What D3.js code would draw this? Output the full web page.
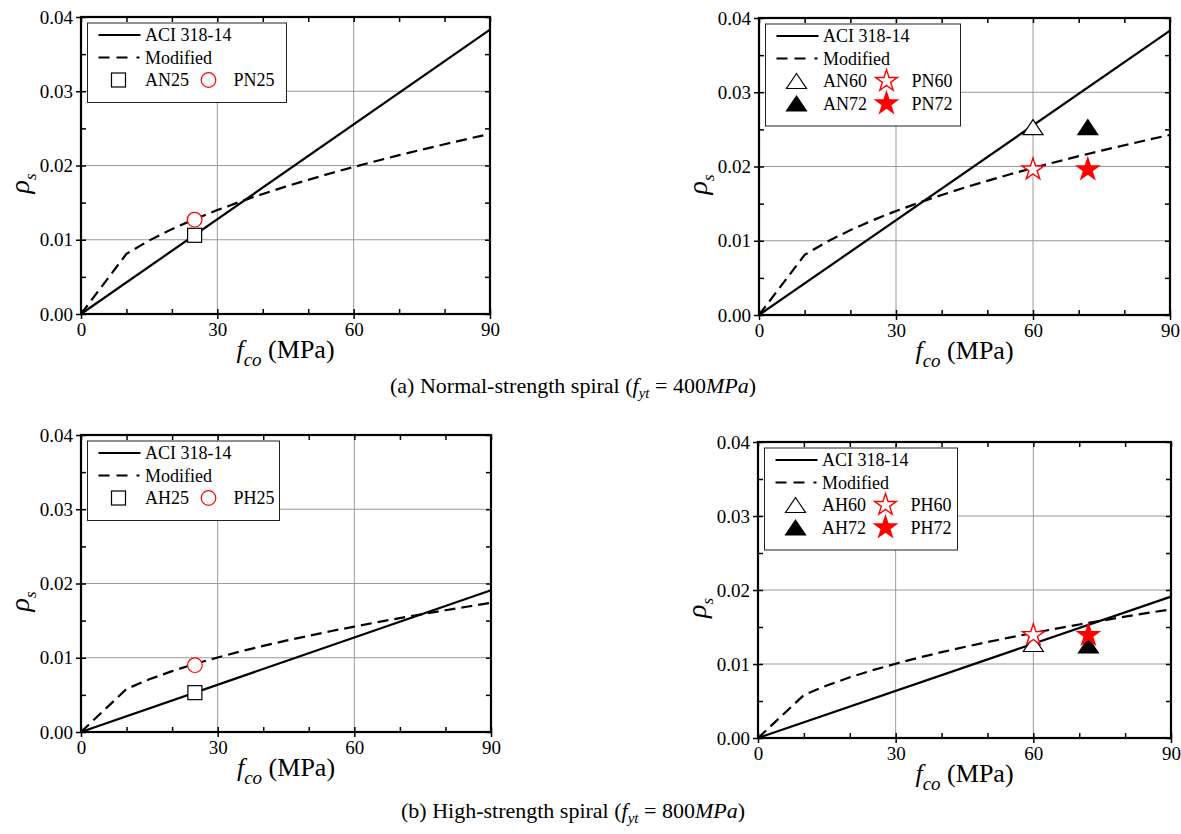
<!DOCTYPE html>
<html>
<head>
<meta charset="utf-8">
<script src="https://cdn.jsdelivr.net/npm/d3@7"></script>
<style>
  body { margin: 0; background: #fff; }
  svg text { font-family: "Liberation Serif", "Times New Roman", serif; fill: #000; }
</style>
</head>
<body>
<div id="chart"></div>
<script>
// axis ticks
var fcoTicks = [0, 30, 60, 90];
var fcoMinor = [10, 20, 40, 50, 70, 80];
var rhoTicks = [0, 0.01, 0.02, 0.03, 0.04];
var rhoMinor = [0.005, 0.015, 0.025, 0.035];

// ACI 318-14 lines (straight)
var aciFco = [0, 90];
var aciNormal = [0, 0.0383];
var aciHigh = [0, 0.0191];

// modified curves
var modFco = [0, 10, 15, 20, 25, 30, 35, 40, 45, 50, 55, 60, 65, 70, 75, 80, 85, 90];
var modNormal = [0, 0.0081, 0.0099, 0.01143, 0.01278, 0.0140, 0.01512, 0.01617, 0.01715,
                 0.01807, 0.01896, 0.0198, 0.02061, 0.02139, 0.02214, 0.02286, 0.02357, 0.02425];
var modHigh = [0, 0.0058, 0.0071, 0.0082, 0.00917, 0.01004, 0.01085, 0.0116, 0.0123,
               0.01296, 0.0136, 0.0142, 0.01478, 0.01534, 0.01587, 0.0164, 0.0169, 0.01739];

// test specimens
var specNames1 = ["AN25", "PN25"];
var specFco1 = [25, 25];
var specRho1 = [0.0106, 0.0127];

var specNames2 = ["AN60", "PN60", "AN72", "PN72"];
var specFco2 = [60, 60, 72, 72];
var specRho2 = [0.0253, 0.0196, 0.0253, 0.0196];

var specNames3 = ["AH25", "PH25"];
var specFco3 = [25, 25];
var specRho3 = [0.0053, 0.0090];

var specNames4 = ["AH60", "PH60", "AH72", "PH72"];
var specFco4 = [60, 60, 72, 72];
var specRho4 = [0.0127, 0.0139, 0.0125, 0.0139];

// marker type per specimen
var markerOf = {
  "AN25": "square", "PN25": "circle", "AH25": "square", "PH25": "circle",
  "AN60": "triOpen", "PN60": "starOpen", "AN72": "triFill", "PN72": "starFill",
  "AH60": "triOpen", "PH60": "starOpen", "AH72": "triFill", "PH72": "starFill"
};

var serif = "'Liberation Serif', 'Times New Roman', serif";

var svg = d3.select("#chart")
  .append("svg")
    .attr("width", 1181)
    .attr("height", 834);

var starPath = d3.symbol().type(d3.symbolStar).size(146)();

function drawMarker(g, kind, cx, cy) {
  if (kind == "square") {
    g.append("rect")
      .attr("x", cx - 7).attr("y", cy - 7)
      .attr("width", 14).attr("height", 14)
      .attr("fill", "#fff").attr("stroke", "#000").attr("stroke-width", 1.2);
  } else if (kind == "circle") {
    g.append("circle")
      .attr("cx", cx).attr("cy", cy).attr("r", 7.3)
      .attr("fill", "#fff").attr("stroke", "#ff0000").attr("stroke-width", 1.2);
  } else if (kind == "triOpen" || kind == "triFill") {
    g.append("path")
      .attr("d", "M0,-7.5L10,7.5L-10,7.5Z")
      .attr("transform", "translate(" + cx + "," + cy + ")")
      .attr("fill", kind == "triFill" ? "#000" : "#fff")
      .attr("stroke", "#000").attr("stroke-width", 1.2);
  } else {
    g.append("path")
      .attr("d", starPath)
      .attr("transform", "translate(" + cx + "," + cy + ")")
      .attr("fill", kind == "starFill" ? "#ff0000" : "#fff")
      .attr("stroke", "#ff0000").attr("stroke-width", 1.4);
  }
}

function drawPanel(p) {
  var x = d3.scaleLinear().domain([0, 90]).range([0, p.w]);
  var y = d3.scaleLinear().domain([0, 0.04]).range([p.h, 0]);

  var g = svg.append("g")
    .attr("transform", "translate(" + p.left + "," + p.top + ")");

  // grid
  g.selectAll(".gx").data(fcoTicks.slice(1, 3)).enter().append("line")
    .attr("x1", function(d) { return x(d); }).attr("x2", function(d) { return x(d); })
    .attr("y1", 0).attr("y2", p.h)
    .attr("stroke", "#9a9a9a").attr("stroke-width", 1);
  g.selectAll(".gy").data(rhoTicks.slice(1, 4)).enter().append("line")
    .attr("y1", function(d) { return y(d); }).attr("y2", function(d) { return y(d); })
    .attr("x1", 0).attr("x2", p.w)
    .attr("stroke", "#9a9a9a").attr("stroke-width", 1);

  // axes with labels (outward major ticks)
  var xAxis = g.append("g")
    .attr("transform", "translate(0," + p.h + ")")
    .call(d3.axisBottom(x).tickValues(fcoTicks).tickSize(5).tickPadding(4).tickFormat(d3.format("d")));
  var yAxis = g.append("g")
    .call(d3.axisLeft(y).tickValues(rhoTicks).tickSize(5).tickPadding(3).tickFormat(d3.format(".2f")));
  [xAxis, yAxis].forEach(function(a) {
    a.attr("font-family", null).attr("font-size", null);
    a.select(".domain").remove();
    a.selectAll("line").attr("stroke", "#000").attr("stroke-width", 1.5);
    a.selectAll("text").style("font-size", "19px");
  });

  // inward ticks on all four sides
  var inner = [
    [d3.axisBottom(x).tickValues(fcoTicks.concat(fcoMinor)), "translate(0," + p.h + ")"],
    [d3.axisTop(x).tickValues(fcoTicks.concat(fcoMinor)), "translate(0,0)"],
    [d3.axisLeft(y).tickValues(rhoTicks.concat(rhoMinor)), "translate(0,0)"],
    [d3.axisRight(y).tickValues(rhoTicks.concat(rhoMinor)), "translate(" + p.w + ",0)"]
  ];
  inner.forEach(function(a) {
    var ag = g.append("g").attr("transform", a[1])
      .call(a[0].tickSize(-5).tickFormat(""));
    ag.select(".domain").remove();
    ag.selectAll("line").attr("stroke", "#000").attr("stroke-width", 1.5);
  });

  // curves
  var line = d3.line()
    .x(function(d) { return x(d[0]); })
    .y(function(d) { return y(d[1]); });

  g.append("path")
    .datum(modFco.map(function(f, i) { return [f, p.mod[i]]; }))
    .attr("d", line)
    .attr("fill", "none").attr("stroke", "#000").attr("stroke-width", 2.2)
    .attr("stroke-dasharray", "11,6");
  g.append("path")
    .datum(aciFco.map(function(f, i) { return [f, p.aci[i]]; }))
    .attr("d", line)
    .attr("fill", "none").attr("stroke", "#000").attr("stroke-width", 2.2);

  // specimens
  p.names.forEach(function(n, i) {
    drawMarker(g, markerOf[n], x(p.fco[i]), y(p.rho[i]));
  });

  // frame
  g.append("rect")
    .attr("width", p.w).attr("height", p.h)
    .attr("fill", "none").attr("stroke", "#000").attr("stroke-width", 2.2);

  // legend
  var rows = 2 + Math.ceil(p.names.length / 2);
  var lg = g.append("g").attr("transform", "translate(6.5,6)");
  lg.append("rect")
    .attr("width", p.legW).attr("height", 12 + rows * 22.5)
    .attr("fill", "#fff").attr("stroke", "#222").attr("stroke-width", 1);
  lg.append("line").attr("x1", 11).attr("x2", 53).attr("y1", 12).attr("y2", 12)
    .attr("stroke", "#000").attr("stroke-width", 2.2);
  lg.append("text").attr("x", 57.5).attr("y", 18).style("font-size", "18px").text("ACI 318-14");
  lg.append("line").attr("x1", 11).attr("x2", 53).attr("y1", 34.5).attr("y2", 34.5)
    .attr("stroke", "#000").attr("stroke-width", 2.2).attr("stroke-dasharray", "11,7,11,9,3,100");
  lg.append("text").attr("x", 57.5).attr("y", 40.5).style("font-size", "18px").text("Modified");

  // specimen entries: A* in column 1, P* in column 2
  p.names.forEach(function(n, i) {
    var row = 2 + Math.floor(i / 2);
    var col = i % 2;
    var cy = 12 + row * 22.5;
    drawMarker(lg, markerOf[n], col == 0 ? 31 : 121, cy);
    lg.append("text")
      .attr("x", col == 0 ? 57.5 : 146)
      .attr("y", cy + 6)
      .style("font-size", "18px")
      .text(n);
  });

  // x axis title
  var xt = g.append("text")
    .attr("x", p.w / 2)
    .attr("y", p.h + 44)
    .attr("text-anchor", "middle")
    .style("font-size", "26px");
  xt.append("tspan").style("font-style", "italic").text("f");
  xt.append("tspan").style("font-style", "italic").style("font-size", "19px").attr("dy", 8).text("co");
  xt.append("tspan").attr("dy", -8).text(" (MPa)");

  // y axis title
  var yt = g.append("text")
    .attr("transform", "translate(" + (-52) + "," + (p.h / 2 + 18) + ") rotate(-90)")
    .attr("text-anchor", "middle")
    .style("font-size", "28px");
  yt.append("tspan").style("font-style", "italic").text("\u03C1");
  yt.append("tspan").style("font-style", "italic").style("font-size", "17px").attr("dy", 7).text("s");
}

drawPanel({left: 81, top: 17, w: 409, h: 297, aci: aciNormal, mod: modNormal,
           names: specNames1, fco: specFco1, rho: specRho1, legW: 199});
drawPanel({left: 759, top: 18, w: 411, h: 297, aci: aciNormal, mod: modNormal,
           names: specNames2, fco: specFco2, rho: specRho2, legW: 195});
drawPanel({left: 81, top: 435, w: 410, h: 297, aci: aciHigh, mod: modHigh,
           names: specNames3, fco: specFco3, rho: specRho3, legW: 192});
drawPanel({left: 758, top: 442, w: 413, h: 296, aci: aciHigh, mod: modHigh,
           names: specNames4, fco: specFco4, rho: specRho4, legW: 193});

// captions
function caption(yPos, lead, val) {
  var t = svg.append("text")
    .attr("x", 573).attr("y", yPos)
    .attr("text-anchor", "middle")
    .style("font-size", "22px");
  t.append("tspan").text(lead + " (");
  t.append("tspan").style("font-style", "italic").text("f");
  t.append("tspan").style("font-style", "italic").style("font-size", "15px").attr("dy", 5).text("yt");
  t.append("tspan").attr("dy", -5).text(" = " + val);
  t.append("tspan").style("font-style", "italic").text("MPa");
  t.append("tspan").text(")");
}
caption(393, "(a) Normal-strength spiral", "400");
caption(818, "(b) High-strength spiral", "800");

// make sure every label uses the serif face
svg.selectAll("text").style("font-family", serif);
</script>
</body>
</html>
